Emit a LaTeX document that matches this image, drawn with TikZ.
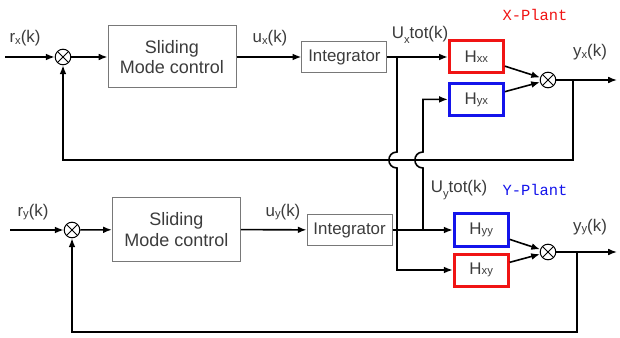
\documentclass[tikz,border=0pt]{standalone}
\usepackage{fontspec}
\setmainfont{Liberation Sans}
\newfontfamily\plantfont{Liberation Mono}
\usetikzlibrary{arrows.meta}
\definecolor{plantred}{RGB}{240,20,20}
\definecolor{plantblue}{RGB}{20,20,235}
\definecolor{boxgray}{RGB}{120,120,120}
\definecolor{textgray}{RGB}{60,60,60}

\begin{document}
\begin{tikzpicture}[>={Latex[length=0.22cm,width=0.17cm]}, font=\fontsize{12}{14}\selectfont,
  block/.style={draw=boxgray, line width=0.025cm, text=textgray, align=center},
  plant/.style={draw, line width=0.075cm, minimum width=1.35cm, minimum height=0.8cm, text=textgray},
  sumnode/.style={circle, draw, minimum size=0.39cm, inner sep=0pt, line width=0.025cm,
    path picture={\draw (path picture bounding box.north west) -- (path picture bounding box.south east)
      (path picture bounding box.north east) -- (path picture bounding box.south west);}},
  wire/.style={line width=0.04cm},
  lbl/.style={text=textgray, inner sep=0pt}]

\useasboundingbox (0,0) rectangle (15.5,8.425);

\node [sumnode] (v1) at (1.575,7) {};
\node [block, minimum width=3.2cm, minimum height=1.55cm, font=\fontsize{12.8}{14.5}\selectfont] (v2) at (4.3,7) {Sliding\\Mode control};
\node [block, minimum width=2.125cm, minimum height=0.78cm] (v3) at (8.61,7) {Integrator};
\node [plant, draw=plantred] (v4) at (11.91,7) {H{\footnotesize xx}};
\node [plant, draw=plantblue] (v5) at (11.91,5.94) {H{\footnotesize yx}};
\node [sumnode] (v6) at (13.7,6.425) {};
\coordinate (v7) at (0.125,7);
\coordinate (v8) at (15.425,6.425);
\coordinate (v9) at (14.325,6.425);
\coordinate (v10) at (1.575,4.425);
\coordinate (v11) at (9.925,7);

\node [sumnode] (v12) at (1.8,2.675) {};
\node [block, minimum width=3.2cm, minimum height=1.6cm, font=\fontsize{12.8}{14.5}\selectfont] (v13) at (4.41,2.69) {Sliding\\Mode control};
\node [block, minimum width=2.125cm, minimum height=0.78cm] (v14) at (8.74,2.675) {Integrator};
\node [plant, draw=plantblue] (v15) at (12.03,2.675) {H{\footnotesize yy}};
\node [plant, draw=plantred] (v16) at (12.03,1.675) {H{\footnotesize xy}};
\node [sumnode] (v17) at (13.7,2.125) {};
\coordinate (v18) at (0.25,2.675);
\coordinate (v19) at (15.425,2.125);
\coordinate (v20) at (14.425,2.125);
\coordinate (v21) at (1.8,0.125);
\coordinate (v22) at (10.575,2.675);

\draw [wire, ->] (v7) -- (v1);
\draw [wire, ->] (v1) -- (v2);
\draw [wire, ->] (v2) -- (v3);
\draw [wire, ->] (v3) -- (v4);
\draw [wire, ->] (v4) -- (v6);
\draw [wire, ->] (v5) -- (v6);
\draw [wire, ->] (v6) -- (v8);
\draw [wire, ->] (v9) |- (v10) -- (v1);

\draw [wire, ->] (v18) -- (v12);
\draw [wire, ->] (v12) -- (v13);
\draw [wire, ->] (v13) -- (v14);
\draw [wire, ->] (v14) -- (v15);
\draw [wire, ->] (v15) -- (v17);
\draw [wire, ->] (v16) -- (v17);
\draw [wire, ->] (v17) -- (v19);
\draw [wire, ->] (v20) |- (v21) -- (v12);

\draw [wire, ->] (v11) -- (9.925,4.625) .. controls (9.655,4.625) and (9.655,4.225) .. (9.925,4.225) |- (v16);
\draw [wire, ->] (v22) -- (10.575,4.225) .. controls (10.305,4.225) and (10.305,4.625) .. (10.575,4.625) |- (v5);

\node [lbl] (v23) at (0.625,7.475) {r\raisebox{-0.2ex}{\footnotesize x}(k)};
\node [lbl] (v24) at (6.75,7.475) {u\raisebox{-0.2ex}{\footnotesize x}(k)};
\node [lbl] (v25) at (10.5,7.55) {U\raisebox{-0.6ex}{\footnotesize x}tot(k)};
\node [lbl, text=plantred, font=\plantfont\fontsize{11}{13}\selectfont] (v26) at (13.375,8.05) {X-Plant};
\node [lbl] (v27) at (14.75,7.125) {y\raisebox{-0.2ex}{\footnotesize x}(k)};

\node [lbl] (v28) at (0.825,3.125) {r\raisebox{-0.2ex}{\footnotesize y}(k)};
\node [lbl] (v29) at (7.075,3.125) {u\raisebox{-0.2ex}{\footnotesize y}(k)};
\node [lbl] (v30) at (11.475,3.675) {U\raisebox{-0.6ex}{\footnotesize y}tot(k)};
\node [lbl, text=plantblue, font=\plantfont\fontsize{11}{13}\selectfont] (v31) at (13.375,3.675) {Y-Plant};
\node [lbl] (v32) at (14.75,2.75) {y\raisebox{-0.2ex}{\footnotesize y}(k)};
\end{tikzpicture}
\end{document}
